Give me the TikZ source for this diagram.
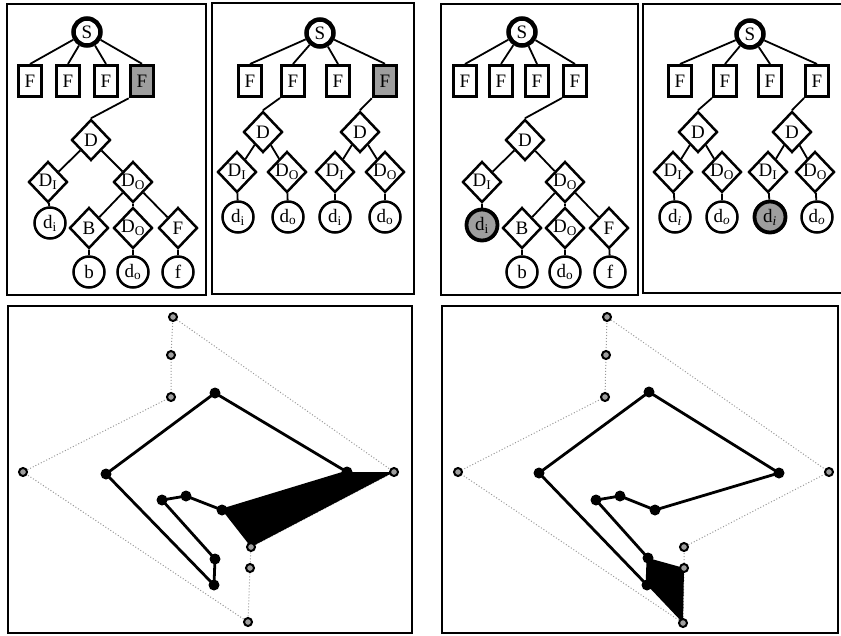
\documentclass[tikz,border=0pt]{standalone}
\usepackage{fontspec}
\setmainfont{Liberation Serif}
\usetikzlibrary{shapes.geometric}
\definecolor{hlgray}{gray}{0.62}
\definecolor{dotgray}{gray}{0.6}
\begin{document}
\begin{tikzpicture}[x=1pt,y=-1pt,
  every node/.style={font=\fontsize{19}{19}\selectfont},
  panel/.style={draw=black,line width=1.8pt},
  edge/.style={draw=black,line width=1.8pt},
  sroot/.style={circle,draw,line width=4.5pt,minimum size=27pt,inner sep=0pt},
  fbox/.style={rectangle,draw,line width=3pt,minimum width=23pt,minimum height=31pt,inner sep=0pt},
  fboxhl/.style={fbox,fill=hlgray,line width=3.5pt},
  dia/.style={diamond,draw,line width=2.5pt,minimum width=39pt,minimum height=41pt,inner sep=0pt},
  leaf/.style={circle,draw,line width=2.5pt,minimum size=31pt,inner sep=0pt},
  leafhl/.style={leaf,fill=hlgray,line width=3.8pt},
  gnode/.style={circle,draw=black,line width=2pt,fill=hlgray,minimum size=8pt,inner sep=0pt},
  bnode/.style={circle,fill=black,minimum size=11pt,inner sep=0pt},
  dotedge/.style={draw=dotgray,dotted,line width=1pt},
  polyedge/.style={draw=black,line width=2.8pt,line join=round},
]
\useasboundingbox (0,0) rectangle (841,635);

% panels
\draw[panel] (7,4) rectangle (206,295);
\draw[panel] (212,3) rectangle (414,294);
\draw[panel] (441,4) rectangle (638,295);
\draw[panel] (643,4) rectangle (850,293);
\draw[panel] (8,306) rectangle (412,633);
\draw[panel] (442,306) rectangle (838,633);

% ---------- panel 1 ----------
\node[sroot] (p1S) at (87,32) {S};
\node[fbox] (p1F1) at (30,81) {F};
\node[fbox] (p1F2) at (68,81) {F};
\node[fbox] (p1F3) at (106,81) {F};
\node[fboxhl] (p1F4) at (142,81) {F};
\node[dia,label=center:{D}] (p1D) at (91,140) {};
\node[dia,label=center:{D\textsubscript{I}}] (p1DI) at (48,182) {};
\node[dia,label=center:{D\textsubscript{O}}] (p1DO) at (133,182) {};
\node[leaf] (p1di) at (50,223) {d\textsubscript{i}};
\node[dia,label=center:{B}] (p1B) at (89,228) {};
\node[dia,label=center:{D\textsubscript{O}}] (p1DO2) at (133,228) {};
\node[dia,label=center:{F}] (p1Fd) at (178,228) {};
\node[leaf] (p1b) at (89,272) {b};
\node[leaf] (p1do) at (133,272) {d\textsubscript{o}};
\node[leaf] (p1f) at (178,272) {f};
\foreach \n in {p1F1,p1F2,p1F3,p1F4} \draw[edge] (p1S) -- (\n.north);
\draw[edge] (p1F4.south west) -- (p1D.north);
\draw[edge] (p1D) -- (p1DI);
\draw[edge] (p1D) -- (p1DO);
\draw[edge] (p1DI) -- (p1di);
\draw[edge] (p1DO) -- (p1B);
\draw[edge] (p1DO) -- (p1DO2);
\draw[edge] (p1DO) -- (p1Fd);
\draw[edge] (p1B) -- (p1b);
\draw[edge] (p1DO2) -- (p1do);
\draw[edge] (p1Fd) -- (p1f);

% ---------- panel 2 ----------
\node[sroot] (p2S) at (320,33) {S};
\node[fbox] (p2F1) at (250,81) {F};
\node[fbox] (p2F2) at (293,81) {F};
\node[fbox] (p2F3) at (338,81) {F};
\node[fboxhl] (p2F4) at (385,81) {F};
\node[dia,label=center:{D}] (p2Da) at (263,132) {};
\node[dia,label=center:{D}] (p2Db) at (360,132) {};
\node[dia,label=center:{D\textsubscript{I}}] (p2DIa) at (237,172) {};
\node[dia,label=center:{D\textsubscript{O}}] (p2DOa) at (287,172) {};
\node[dia,label=center:{D\textsubscript{I}}] (p2DIb) at (335,172) {};
\node[dia,label=center:{D\textsubscript{O}}] (p2DOb) at (385,172) {};
\node[leaf] (p2dia) at (238,217) {d\textsubscript{i}};
\node[leaf] (p2doa) at (288,217) {d\textsubscript{o}};
\node[leaf] (p2dib) at (335,217) {d\textsubscript{i}};
\node[leaf] (p2dob) at (385,217) {d\textsubscript{o}};
\foreach \n in {p2F1,p2F2,p2F3,p2F4} \draw[edge] (p2S) -- (\n.north);
\draw[edge] (p2F2.south west) -- (p2Da.north);
\draw[edge] (p2F4.south west) -- (p2Db.north);
\draw[edge] (p2Da) -- (p2DIa);
\draw[edge] (p2Da) -- (p2DOa);
\draw[edge] (p2Db) -- (p2DIb);
\draw[edge] (p2Db) -- (p2DOb);
\draw[edge] (p2DIa) -- (p2dia);
\draw[edge] (p2DOa) -- (p2doa);
\draw[edge] (p2DIb) -- (p2dib);
\draw[edge] (p2DOb) -- (p2dob);

% ---------- panel 3 ----------
\node[sroot] (p3S) at (522,32) {S};
\node[fbox] (p3F1) at (465,81) {F};
\node[fbox] (p3F2) at (501,81) {F};
\node[fbox] (p3F3) at (537,81) {F};
\node[fbox] (p3F4) at (575,81) {F};
\node[dia,label=center:{D}] (p3D) at (525,140) {};
\node[dia,label=center:{D\textsubscript{I}}] (p3DI) at (482,182) {};
\node[dia,label=center:{D\textsubscript{O}}] (p3DO) at (565,182) {};
\node[leafhl] (p3di) at (482,225) {d\textsubscript{i}};
\node[dia,label=center:{B}] (p3B) at (522,228) {};
\node[dia,label=center:{D\textsubscript{O}}] (p3DO2) at (565,228) {};
\node[dia,label=center:{F}] (p3Fd) at (609,228) {};
\node[leaf] (p3b) at (522,272) {b};
\node[leaf] (p3do) at (565,272) {d\textsubscript{o}};
\node[leaf] (p3f) at (610,272) {f};
\foreach \n in {p3F1,p3F2,p3F3,p3F4} \draw[edge] (p3S) -- (\n.north);
\draw[edge] (p3F4.south west) -- (p3D.north);
\draw[edge] (p3D) -- (p3DI);
\draw[edge] (p3D) -- (p3DO);
\draw[edge] (p3DI) -- (p3di);
\draw[edge] (p3DO) -- (p3B);
\draw[edge] (p3DO) -- (p3DO2);
\draw[edge] (p3DO) -- (p3Fd);
\draw[edge] (p3B) -- (p3b);
\draw[edge] (p3DO2) -- (p3do);
\draw[edge] (p3Fd) -- (p3f);

% ---------- panel 4 ----------
\node[sroot] (p4S) at (750,34) {S};
\node[fbox] (p4F1) at (680,81) {F};
\node[fbox] (p4F2) at (725,81) {F};
\node[fbox] (p4F3) at (770,81) {F};
\node[fbox] (p4F4) at (817,81) {F};
\node[dia,label=center:{D}] (p4Da) at (698,132) {};
\node[dia,label=center:{D}] (p4Db) at (792,132) {};
\node[dia,label=center:{D\textsubscript{I}}] (p4DIa) at (673,172) {};
\node[dia,label=center:{D\textsubscript{O}}] (p4DOa) at (722,172) {};
\node[dia,label=center:{D\textsubscript{I}}] (p4DIb) at (768,172) {};
\node[dia,label=center:{D\textsubscript{O}}] (p4DOb) at (815,172) {};
\node[leaf] (p4dia) at (675,217) {d\textsubscript{\textit{i}}};
\node[leaf] (p4doa) at (722,217) {d\textsubscript{\textit{o}}};
\node[leafhl] (p4dib) at (770,217) {d\textsubscript{\textit{i}}};
\node[leaf] (p4dob) at (817,217) {d\textsubscript{\textit{o}}};
\foreach \n in {p4F1,p4F2,p4F3,p4F4} \draw[edge] (p4S) -- (\n.north);
\draw[edge] (p4F2.south west) -- (p4Da.north);
\draw[edge] (p4F4.south west) -- (p4Db.north);
\draw[edge] (p4Da) -- (p4DIa);
\draw[edge] (p4Da) -- (p4DOa);
\draw[edge] (p4Db) -- (p4DIb);
\draw[edge] (p4Db) -- (p4DOb);
\draw[edge] (p4DIa) -- (p4dia);
\draw[edge] (p4DOa) -- (p4doa);
\draw[edge] (p4DIb) -- (p4dib);
\draw[edge] (p4DOb) -- (p4dob);

% ---------- bottom left ----------
\coordinate (a1) at (173,317);
\coordinate (a2) at (171,355);
\coordinate (a3) at (171,397);
\coordinate (a4) at (23,472);
\coordinate (a5) at (394,472);
\coordinate (a6) at (251,547);
\coordinate (a7) at (250,568);
\coordinate (a8) at (248,622);
\coordinate (b1) at (215,393);
\coordinate (b2) at (347,472);
\coordinate (b3) at (106,474);
\coordinate (b4) at (162,500);
\coordinate (b5) at (186,496);
\coordinate (b6) at (222,510);
\coordinate (b7) at (215,559);
\coordinate (b8) at (214,585);
\draw[dotedge] (a1) -- (a2) -- (a3) -- (a4) -- (a8) -- (a7) -- (a6) -- (a5) -- cycle;
\fill[black] (b2) -- (a5) -- (a6) -- (b6) -- cycle;
\draw[polyedge] (b3) -- (b1) -- (b2) -- (b6) -- (b5) -- (b4) -- (b7) -- (b8) -- cycle;
\foreach \n in {a1,a2,a3,a4,a5,a6,a7,a8} \node[gnode] (n\n) at (\n) {};
\foreach \n in {b1,b2,b3,b4,b5,b6,b7,b8} \node[bnode] (n\n) at (\n) {};

% ---------- bottom right ----------
\coordinate (c1) at (607,317);
\coordinate (c2) at (606,355);
\coordinate (c3) at (605,397);
\coordinate (c4) at (458,472);
\coordinate (c5) at (829,472);
\coordinate (c6) at (684,547);
\coordinate (c7) at (684,568);
\coordinate (c8) at (683,623);
\coordinate (e1) at (649,392);
\coordinate (e2) at (779,473);
\coordinate (e3) at (539,473);
\coordinate (e4) at (596,500);
\coordinate (e5) at (620,496);
\coordinate (e6) at (655,510);
\coordinate (e7) at (648,558);
\coordinate (e8) at (647,585);
\draw[dotedge] (c1) -- (c2) -- (c3) -- (c4) -- (c8) -- (c7) -- (c6) -- (c5) -- cycle;
\fill[black] (e7) -- (c7) -- (c8) -- (e8) -- cycle;
\draw[polyedge] (e3) -- (e1) -- (e2) -- (e6) -- (e5) -- (e4) -- (e7) -- (e8) -- cycle;
\foreach \n in {c1,c2,c3,c4,c5,c6,c7,c8} \node[gnode] (n\n) at (\n) {};
\foreach \n in {e1,e2,e3,e4,e5,e6,e7,e8} \node[bnode] (n\n) at (\n) {};
\end{tikzpicture}
\end{document}
